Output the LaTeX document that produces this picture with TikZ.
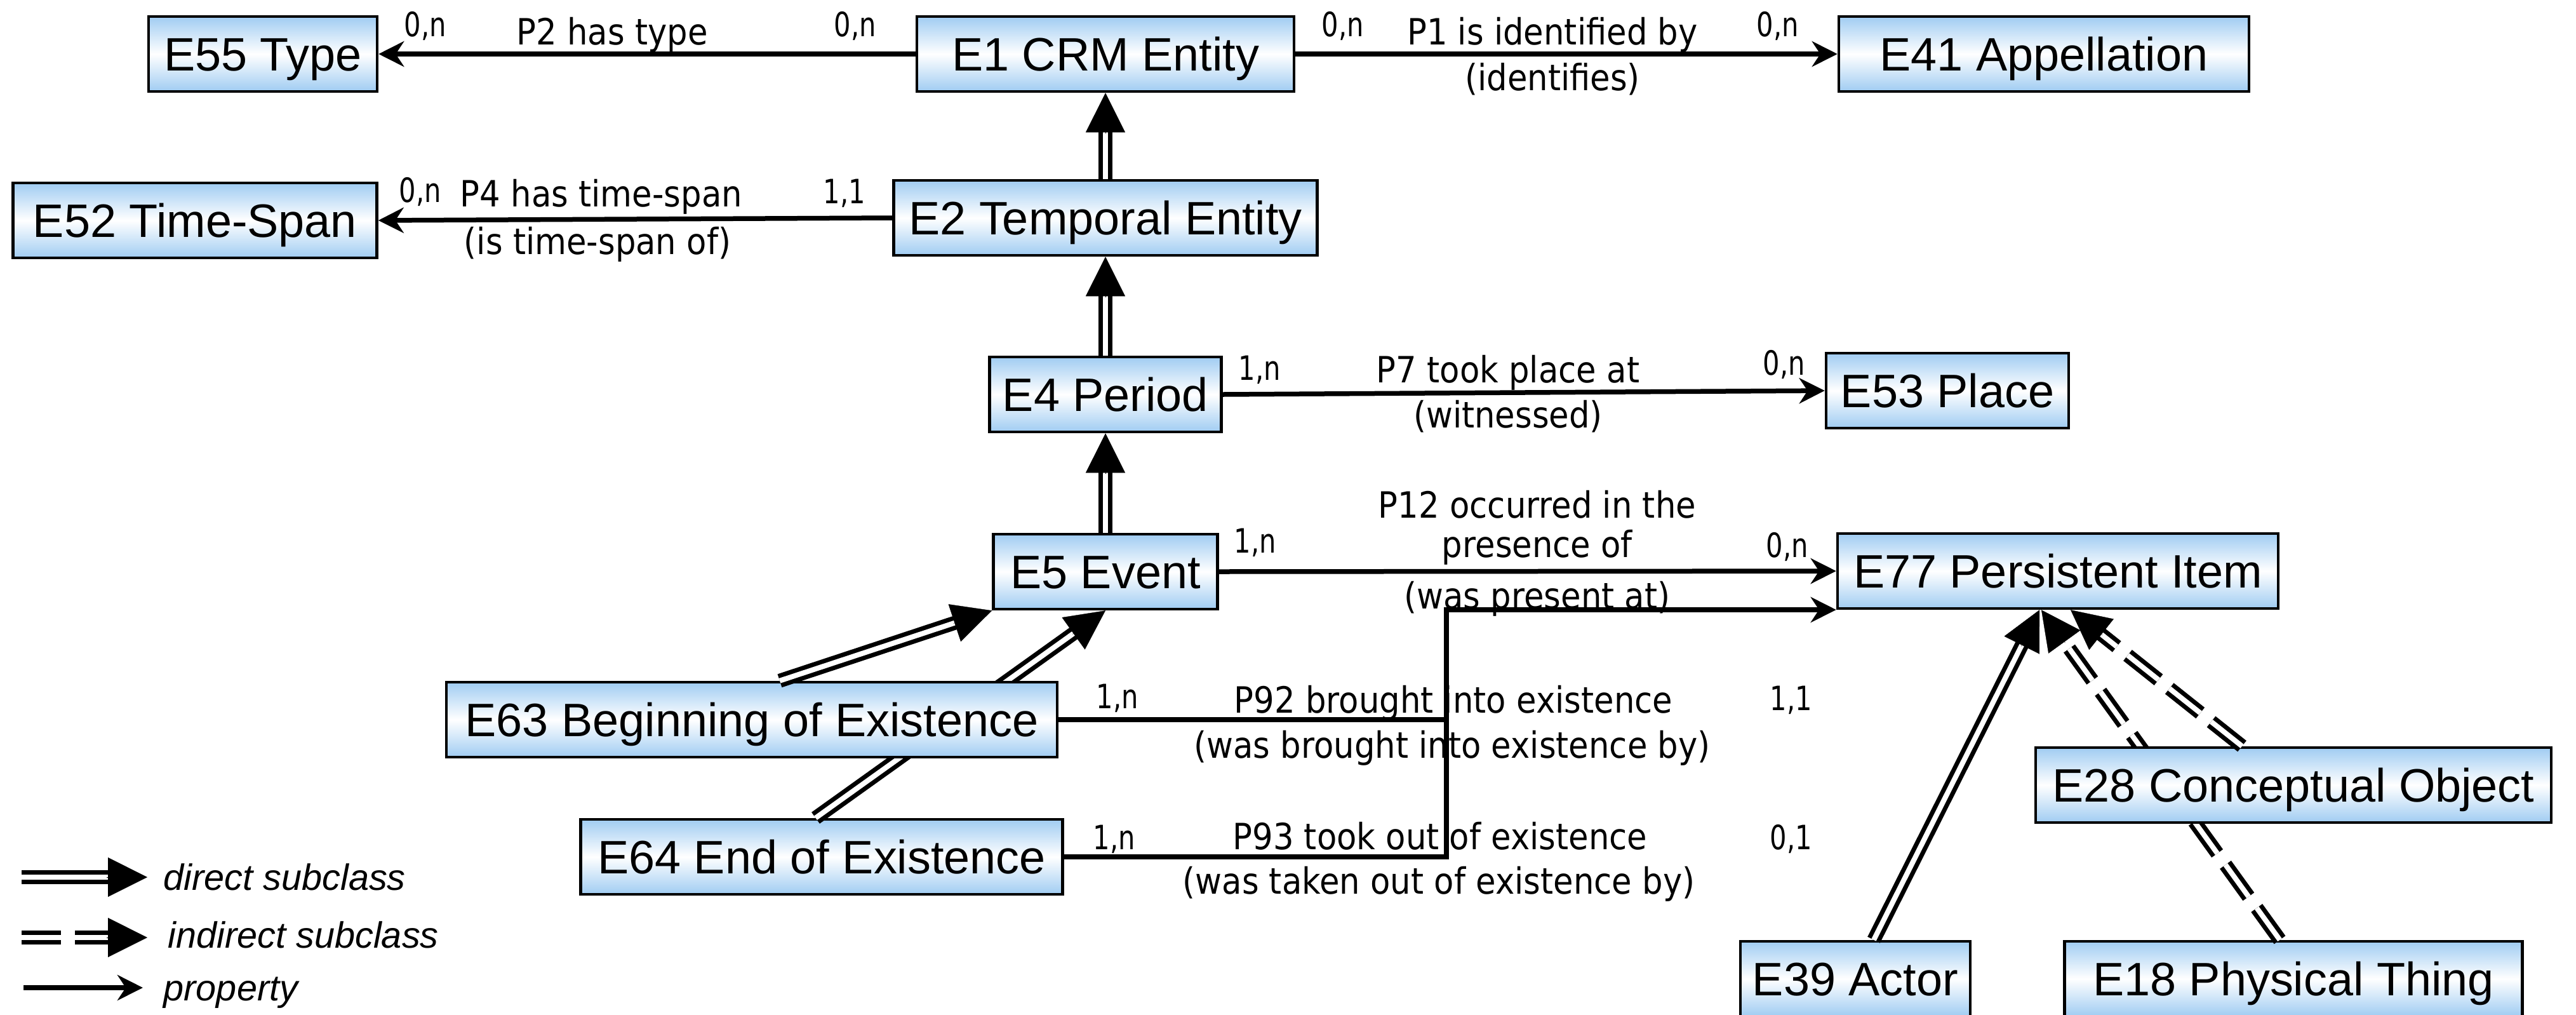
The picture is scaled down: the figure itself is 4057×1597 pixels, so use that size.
\documentclass[tikz,border=0pt]{standalone}
\usepackage{fontspec}
\setmainfont{Liberation Sans}
\newfontfamily\lblfont[FakeStretch=0.9]{DejaVu Sans}
\newfontfamily\cardfont[FakeStretch=0.79]{DejaVu Sans}
\usetikzlibrary{arrows.meta,calc}

\definecolor{boxblue}{RGB}{160,204,242}

\tikzset{
    cls/.style={draw=black, line width=0.45mm, minimum height=11.8mm, inner sep=0pt,
        text height=15pt, text depth=0pt,
        top color=boxblue, bottom color=boxblue, middle color=white,
        font=\fontsize{21}{25}\selectfont},
    lbl/.style={anchor=base, inner sep=0pt, font=\lblfont\fontsize{16.2}{19}\selectfont},
    card/.style={anchor=base, inner sep=0pt, font=\cardfont\fontsize{15}{18}\selectfont},
    legtext/.style={anchor=base west, inner sep=0pt, font=\itshape\fontsize{16.4}{19}\selectfont},
    prop/.style={line width=0.75mm, -{Stealth[length=4mm, width=4mm, inset=1.3mm]}},
    dsub/.style={line width=0.7mm, double=white, double distance=0.8mm, shorten >=6mm},
    isub/.style={dsub, dash pattern=on 6.2mm off 2.2mm},
    subtip/.style={line width=0.1pt, -{Triangle[length=6.2mm, width=6.2mm]}}
}

\newcommand\subline[3][dsub]{%
    \draw[#1] (#2) -- (#3);
    \draw[subtip] ($(#3)!6.4mm!(#2)$) -- (#3);}

\begin{document}
\begin{tikzpicture}[x=0.1mm, y=-0.1mm]
            \useasboundingbox (0,0) rectangle (4057,1597);

            \node[cls, minimum width=36mm] (e55) at (414,85) {E55 Type};
            \node[cls, minimum width=59.4mm] (e1) at (1741,85) {E1 CRM Entity};
            \node[cls, minimum width=64.6mm] (e41) at (3219,85) {E41 Appellation};
            \node[cls, minimum width=57.3mm] (e52) at (307,347) {E52 Time-Span};
            \node[cls, minimum width=66.7mm] (e2) at (1741,343) {E2 Temporal Entity};
            \node[cls, minimum width=36.5mm] (e4) at (1741,621) {E4 Period};
            \node[cls, minimum width=38.2mm] (e53) at (3067,615) {E53 Place};
            \node[cls, minimum width=35.3mm] (e5) at (1741,900) {E5 Event};
            \node[cls, minimum width=69.4mm] (e77) at (3241,899) {E77 Persistent Item};
            \node[cls, minimum width=75.9mm] (e64) at (1294,1349) {E64 End of Existence};
            \node[cls, minimum width=36.2mm] (e39) at (2922,1541) {E39 Actor};
            \node[cls, minimum width=72.1mm] (e18) at (3612,1541) {E18 Physical Thing};

            \subline{[xshift=-0.95mm]e64.north}{e5.south}
            \subline[isub]{[xshift=-2.15mm]e18.north}{[xshift=-2.6mm]e77.south}

            \node[cls, minimum width=96.2mm] (e63) at (1184,1133) {E63 Beginning of Existence};
            \node[cls, minimum width=81.2mm] (e28) at (3612,1236) {E28 Conceptual Object};

            \subline{e2.north}{e1.south}
            \subline{e4.north}{e2.south}
            \subline{e5.north}{e4.south}
            \subline{[xshift=4.4mm]e63.north}{e5.south west}
            \subline{[xshift=2.9mm]e39.north}{[xshift=-2.9mm]e77.south}
            \subline[isub]{[xshift=-8.1mm]e28.north}{[xshift=2mm]e77.south}

            \draw[prop] (e1.west) -- (e55.east);
            \node[card] (c2a) at (670,57) {0,n};
            \node[lbl] (p2) at (964,70) {P2 has type};
            \node[card] (c2b) at (1347,57) {0,n};

            \draw[prop] (e1.east) -- (e41.west);
            \node[card] (c1a) at (2115,57) {0,n};
            \node[lbl] (p1) at (2445,70) {P1 is identified by};
            \node[lbl] (p1i) at (2445,142) {(identifies)};
            \node[card] (c1b) at (2800,57) {0,n};

            \draw[prop] (e2.west) -- (e52.east);
            \node[card] (c4a) at (662,318) {0,n};
            \node[lbl] (p4) at (947,325) {P4 has time-span};
            \node[card] (c4b) at (1330,320) {1,1};
            \node[lbl] (p4i) at (941,400) {(is time-span of)};

            \draw[prop] (e4.east) -- (e53.west);
            \node[card] (c7a) at (1984,598) {1,n};
            \node[lbl] (p7) at (2375,602) {P7 took place at};
            \node[lbl] (p7i) at (2375,673) {(witnessed)};
            \node[card] (c7b) at (2810,590) {0,n};

            \draw[prop] (e5.east) -- (e77.west);
            \node[card] (c12a) at (1977,870) {1,n};
            \node[lbl] (p12) at (2421,815) {P12 occurred in the};
            \node[lbl] (p12b) at (2421,877) {presence of};
            \node[lbl] (p12i) at (2421,958) {(was present at)};
            \node[card] (c12b) at (2815,877) {0,n};

            \coordinate (pj) at (2278,960);
            \draw[line width=0.75mm] (e63.east) -- (e63.east -| pj);
            \draw[prop] (e64.east) -| (pj) -- (pj -| e77.west);
            \node[card] (c92a) at (1760,1115) {1,n};
            \node[lbl] (p92) at (2289,1122) {P92 brought into existence};
            \node[lbl] (p92i) at (2287,1193) {(was brought into existence by)};
            \node[card] (c92b) at (2821,1118) {1,1};
            \node[card] (c93a) at (1755,1337) {1,n};
            \node[lbl] (p93) at (2268,1337) {P93 took out of existence};
            \node[lbl] (p93i) at (2266,1407) {(was taken out of existence by)};
            \node[card] (c93b) at (2821,1337) {0,1};

            \coordinate (ld1) at (34,1381);
            \coordinate (ld2) at (232,1381);
            \subline{ld1}{ld2}
            \coordinate (li1) at (34,1476);
            \coordinate (li2) at (232,1476);
            \subline[isub]{li1}{li2}
            \coordinate (lp1) at (37,1555);
            \coordinate (lp2) at (225,1555);
            \draw[prop] (lp1) -- (lp2);
            \node[legtext] (ldir) at (257,1401) {direct subclass};
            \node[legtext] (lind) at (264,1492) {indirect subclass};
            \node[legtext] (lprop) at (257,1575) {property};
\end{tikzpicture}
\end{document}
